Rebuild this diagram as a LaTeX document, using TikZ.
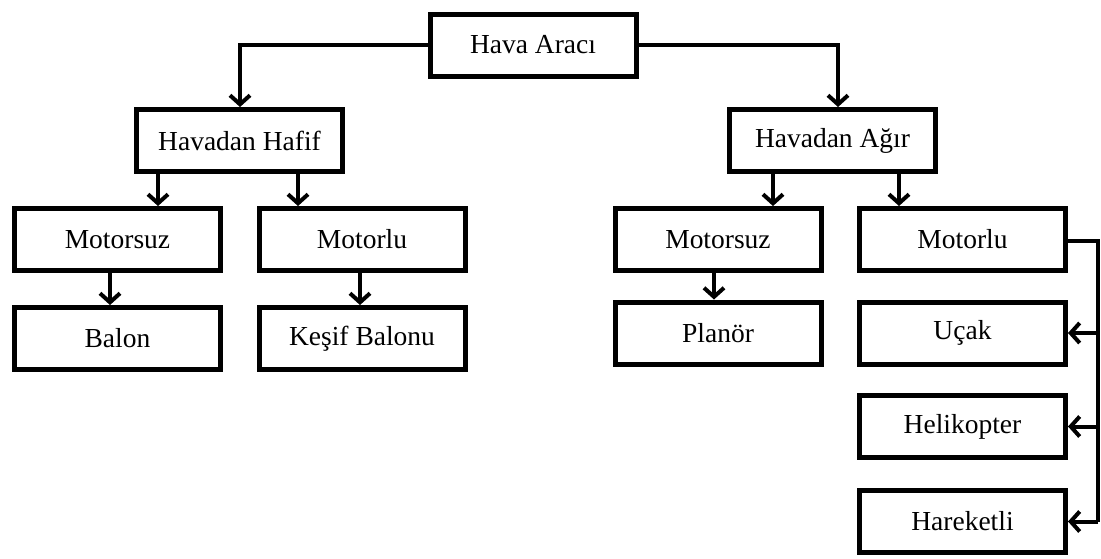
\documentclass[tikz,border=0pt]{standalone}
\usepackage{fontspec}
\setmainfont{Liberation Serif}
\usetikzlibrary{arrows.meta}
\begin{document}
\begin{tikzpicture}[x=1pt,y=-1pt,
  box/.style={draw=black, line width=5pt, fill=white, minimum width=206pt, minimum height=62pt, inner sep=0pt, font=\fontsize{27.5}{31}\selectfont},
  arr/.style={line width=4pt, -{Straight Barb[length=9pt,width=20pt]}},
  ln/.style={line width=4pt}]
\useasboundingbox (0,0) rectangle (1101,558);
\node[box] (hava) at (533,45) {Hava Aracı};
\node[box] (hafif) at (239.5,140.5) {Havadan Hafif};
\node[box] (agir) at (832.5,140.5) {Havadan Ağır};
\node[box] (lmotorsuz) at (117.5,239.5) {Motorsuz};
\node[box] (lmotorlu) at (362,239.5) {Motorlu};
\node[box] (balon) at (117.5,338.5) {Balon};
\node[box] (kesif) at (362,338.5) {Keşif Balonu};
\node[box] (rmotorsuz) at (718,239.5) {Motorsuz};
\node[box] (rmotorlu) at (962.5,239.5) {Motorlu};
\node[box] (planor) at (718,333) {Planör};
\node[box] (ucak) at (962.5,333) {Uçak};
\node[box] (heli) at (962.5,426.5) {Helikopter};
\node[box] (hareketli) at (962.5,521.5) {Hareketli};
\coordinate (bus) at (1098,0);
% connectors
\draw[arr] (hava.west) -| (hafif.north -| 240,0);
\draw[arr] (hava.east) -| (agir.north -| 838,0);
\draw[arr] (hafif.south -| 158,0) -- (lmotorsuz.north -| 158,0);
\draw[arr] (hafif.south -| 298,0) -- (lmotorlu.north -| 298,0);
\draw[arr] (lmotorsuz.south -| 110,0) -- (balon.north -| 110,0);
\draw[arr] (lmotorlu.south -| 360,0) -- (kesif.north -| 360,0);
\draw[arr] (agir.south -| 773,0) -- (rmotorsuz.north -| 773,0);
\draw[arr] (agir.south -| 899,0) -- (rmotorlu.north -| 899,0);
\draw[arr] (rmotorsuz.south -| 714,0) -- (planor.north -| 714,0);
\draw[ln] ([yshift=-1.5pt]rmotorlu.east) -| (hareketli.east -| bus);
\draw[arr] (ucak.east -| bus) -- (ucak.east);
\draw[arr] (heli.east -| bus) -- (heli.east);
\draw[arr] (hareketli.east -| bus) -- (hareketli.east);
\end{tikzpicture}
\end{document}
